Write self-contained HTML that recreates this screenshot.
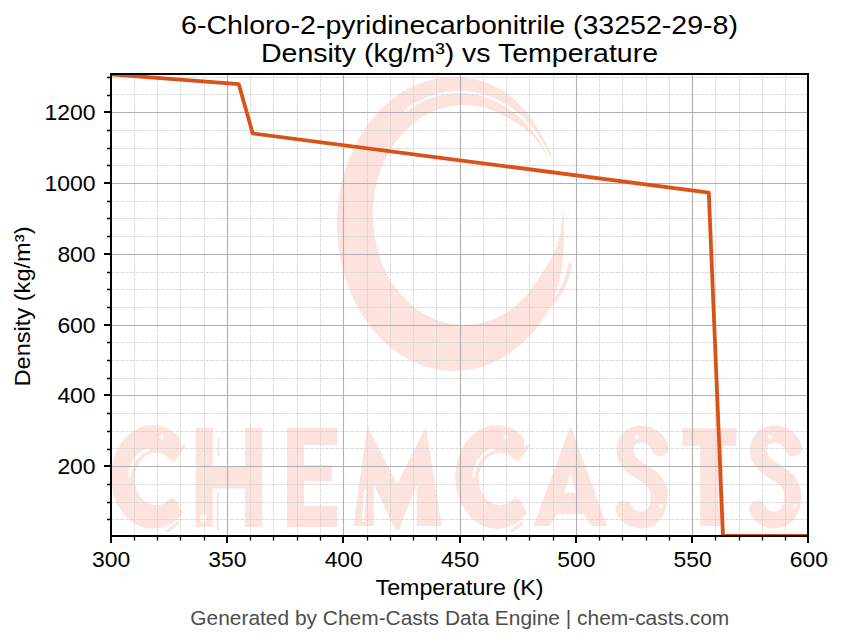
<!DOCTYPE html><html><head><meta charset="utf-8"><title>Density vs Temperature</title><style>html,body{margin:0;padding:0;background:#fff;width:843px;height:644px;overflow:hidden}svg{display:block}text{font-family:"Liberation Sans",sans-serif;fill:#000}</style></head><body>
<svg width="843" height="644" viewBox="0 0 843 644">
<rect width="843" height="644" fill="#fff"/>
<defs><clipPath id="ax"><rect x="111" y="74" width="697" height="462"/></clipPath>
</defs>
<g clip-path="url(#ax)">
<path fill="#fde3de" d="M562.7,210.5 L563.6,215.6 L563.8,220.4 L564.0,225.4 L564.1,230.4 L564.1,235.5 L564.0,240.7 L563.8,246.0 L563.5,251.4 L563.1,256.9 L562.5,262.4 L561.7,268.0 L560.8,273.5 L559.7,279.1 L558.4,284.6 L556.8,290.0 L555.1,295.3 L553.2,300.4 L551.1,305.4 L548.7,310.1 L546.2,314.5 L543.5,318.7 L540.7,322.7 L537.7,326.7 L534.7,330.5 L531.5,334.1 L528.3,337.6 L524.9,340.9 L521.4,344.1 L517.9,347.1 L514.3,350.0 L510.5,352.7 L506.8,355.2 L502.9,357.6 L499.0,359.7 L495.0,361.7 L490.9,363.5 L486.8,365.1 L482.7,366.5 L478.5,367.7 L474.3,368.8 L470.1,369.6 L465.8,370.2 L461.6,370.7 L457.3,370.9 L453.0,371.0 L448.7,370.8 L444.4,370.5 L440.1,370.0 L435.9,369.2 L431.7,368.3 L427.5,367.2 L423.3,365.9 L419.2,364.3 L415.1,362.7 L411.1,360.8 L407.2,358.7 L403.3,356.5 L399.4,354.0 L395.7,351.4 L392.0,348.7 L388.4,345.7 L384.9,342.6 L381.5,339.4 L378.2,335.9 L375.0,332.4 L371.8,328.7 L368.9,324.8 L366.0,320.8 L363.2,316.7 L360.6,312.5 L358.0,308.1 L355.7,303.6 L353.4,299.0 L351.3,294.4 L349.3,289.6 L347.5,284.7 L345.8,279.8 L344.2,274.8 L342.8,269.7 L341.5,264.5 L340.4,259.3 L339.5,254.1 L338.7,248.8 L338.0,243.4 L337.5,238.1 L337.2,232.7 L337.0,227.3 L337.0,221.9 L337.1,216.6 L337.4,211.2 L337.9,205.8 L338.5,200.5 L339.3,195.2 L340.2,189.9 L341.3,184.7 L342.5,179.6 L343.8,174.4 L345.4,169.4 L347.0,164.4 L348.8,159.6 L350.8,154.8 L352.9,150.1 L355.1,145.5 L357.5,140.9 L359.9,136.6 L362.6,132.3 L365.3,128.1 L368.2,124.1 L371.1,120.2 L374.2,116.5 L377.4,112.9 L380.7,109.4 L384.1,106.1 L387.6,103.0 L391.1,100.0 L394.8,97.2 L398.5,94.6 L402.3,92.1 L406.2,89.8 L410.2,87.7 L414.2,85.8 L418.2,84.0 L422.3,82.5 L426.5,81.1 L430.7,80.0 L434.9,79.0 L439.1,78.2 L443.4,77.6 L447.7,77.2 L452.0,77.0 L456.2,77.0 L460.5,77.2 L464.8,77.6 L469.1,78.2 L473.3,79.0 L477.5,80.0 L481.7,81.2 L485.9,82.6 L490.0,84.1 L494.0,85.9 L498.0,87.8 L502.0,90.0 L505.8,92.5 L509.6,95.2 L513.3,98.3 L516.8,101.5 L520.2,104.9 L523.5,108.5 L526.6,112.2 L529.6,116.1 L532.5,120.0 L535.2,124.1 L537.8,128.2 L540.3,132.3 L542.6,136.5 L544.8,140.7 L547.0,145.0 L549.0,149.3 L550.9,153.5 L550.8,159.2 L550.8,159.2 L547.0,156.6 L545.0,152.8 L542.9,149.2 L540.6,145.8 L538.2,142.5 L535.7,139.4 L533.1,136.5 L530.4,133.8 L527.6,131.3 L524.8,129.0 L522.0,126.8 L519.1,124.7 L516.2,122.8 L513.3,121.0 L510.3,119.3 L507.3,117.7 L504.3,116.1 L501.3,114.6 L498.2,113.1 L495.1,111.6 L492.0,110.3 L488.8,109.2 L485.6,108.1 L482.3,107.2 L479.0,106.5 L475.7,105.9 L472.4,105.5 L469.1,105.2 L465.7,105.0 L462.4,105.0 L459.1,105.2 L455.8,105.5 L452.4,105.9 L449.1,106.5 L445.9,107.2 L442.6,108.1 L439.4,109.1 L436.2,110.3 L433.0,111.6 L429.9,113.0 L426.8,114.6 L423.8,116.3 L420.9,118.1 L418.0,120.1 L415.1,122.2 L412.3,124.5 L409.6,126.8 L407.0,129.3 L404.4,131.9 L401.9,134.6 L399.5,137.4 L397.2,140.3 L395.0,143.3 L392.9,146.4 L390.8,149.6 L388.9,152.9 L387.1,156.2 L385.4,159.7 L383.7,163.2 L382.2,166.8 L380.8,170.4 L379.5,174.1 L378.3,177.9 L377.3,181.7 L376.3,185.6 L375.5,189.5 L374.8,193.4 L374.2,197.4 L373.7,201.4 L373.3,205.4 L373.1,209.4 L373.0,213.5 L373.0,217.5 L373.2,221.5 L373.4,225.5 L373.8,229.5 L374.3,233.5 L374.9,237.5 L375.7,241.4 L376.5,245.3 L377.5,249.2 L378.6,253.0 L379.8,256.7 L381.1,260.4 L382.6,264.1 L384.1,267.7 L385.8,271.2 L387.5,274.6 L389.4,277.9 L391.3,281.2 L393.4,284.4 L395.5,287.5 L397.8,290.4 L400.1,293.3 L402.5,296.1 L405.0,298.8 L407.6,301.3 L410.3,303.8 L413.0,306.1 L415.8,308.3 L418.6,310.4 L421.6,312.3 L424.5,314.1 L427.6,315.8 L430.6,317.3 L433.8,318.8 L436.9,320.0 L440.1,321.2 L443.4,322.1 L446.6,323.0 L449.9,323.7 L453.2,324.2 L456.5,324.6 L459.9,324.9 L463.2,325.0 L466.5,325.0 L469.9,324.8 L473.2,324.4 L476.5,324.0 L479.8,323.3 L483.1,322.6 L486.3,321.6 L489.5,320.6 L492.7,319.4 L495.9,318.0 L499.0,316.6 L502.0,314.9 L505.0,313.2 L508.0,311.3 L510.9,309.3 L513.7,307.1 L516.5,304.9 L519.1,302.5 L521.8,300.0 L524.3,297.4 L526.8,294.7 L529.1,291.8 L531.4,288.9 L533.6,285.9 L535.7,282.7 L537.8,279.6 L539.8,276.6 L541.8,273.6 L543.7,270.6 L545.7,267.7 L547.5,264.7 L549.4,261.6 L551.1,258.4 L552.8,255.1 L554.4,251.7 L555.9,248.2 L557.3,244.5 L558.6,240.7 L559.6,236.7 L560.6,232.6 L561.3,228.3 L561.8,223.9 L562.2,219.5 L562.3,214.9 L562.7,210.5 Z"/>
<path fill="none" stroke="#fff" stroke-width="2.2" d="M404.9,111.3 L408.8,108.5 L412.7,105.8 L416.8,103.4 L420.9,101.2 L425.1,99.3 L429.4,97.5 L433.7,96.0 L438.1,94.8 L442.5,93.7 L446.9,92.9 L451.4,92.4 L455.9,92.1 L460.4,92.0 L464.9,92.2 L469.4,92.6 L473.8,93.2 L478.3,94.1 L482.7,95.3 L487.0,96.6 L491.3,98.2 L495.6,100.0 L499.7,102.1 L503.8,104.4 L507.9,106.9 L511.8,109.6 L515.6,112.5 L519.3,115.6 L522.9,118.9 L526.4,122.4 L529.7,126.1 L533.0,130.0 L536.0,134.0 L539.0,138.2 L541.8,142.6 L544.4,147.1 L546.8,151.7 L549.1,156.5 L551.3,161.3 L553.2,166.3 L555.0,171.4"/>
<path fill="none" stroke="#fde3de" stroke-width="4" stroke-linecap="round" d="M549,306 Q566,290 570,265"/>
<path fill="#fde3de" stroke="#fde3de" stroke-width="1.5" stroke-linejoin="round" d="M179.3,437.9 A41,51 0 1 0 182.4,512.4 L171.5,498.1 A22,27 0 1 1 171.5,459.9 L179.3,454 Z"/>
<path fill="#fde3de" stroke="#fde3de" stroke-width="1.5" stroke-linejoin="round" d="M523.4,437.9 A41,51 0 1 0 526.5,512.4 L515.6,498.1 A22,27 0 1 1 515.6,459.9 L523.4,454 Z"/>
<path fill="none" stroke="#fde3de" stroke-width="17" stroke-linecap="round" transform="translate(0,0)" d="M660,448 C657,439 650,434 641,434 C630,434 624,442 625,452 C626,465 640,470 648,476 C657,482 660,490 659,500 C658,512 651,520 641,520 C631,520 626,514 624,509"/>
<path fill="none" stroke="#fde3de" stroke-width="17" stroke-linecap="round" transform="translate(133.6,0)" d="M660,448 C657,439 650,434 641,434 C630,434 624,442 625,452 C626,465 640,470 648,476 C657,482 660,490 659,500 C658,512 651,520 641,520 C631,520 626,514 624,509"/>
<path fill="#fde3de" d="M195.7,428 H212.9 V466.4 H245 V428 H262.3 V527 H245 V488.6 H212.9 V527 H195.7 Z"/>
<path fill="#fde3de" d="M287,428 H337.5 V445 H304 V465 H332 V481.5 H304 V505.7 H337.5 V527 H287 Z"/>
<path fill="#fde3de" d="M353.4,526 L367.3,425.4 L397.1,484.1 L426,426.4 L441.8,526 L416.7,526 L416.7,485 L399,529.7 L395.3,529.7 L373.9,485 L373.9,526 Z"/>
<path fill="#fde3de" fill-rule="evenodd" d="M533.4,526.1 L570.6,425.5 L607,526.1 L592.1,526.1 L583.5,514 L557.5,514 L549.2,526.1 Z M570.6,473.9 L564.1,492.5 L576.2,492.5 Z"/>
<path fill="#fde3de" d="M682.4,428.2 H736.4 V445.9 H723 V526 H700.1 V445.9 H682.4 Z"/>
<g transform="translate(-344.1,0)"><path fill="none" stroke="#fff" stroke-width="2.5" stroke-linecap="round" d="M473.5,476 Q476,456 493,449"/><circle cx="514.5" cy="445.5" r="9" fill="#fde3de"/><circle cx="516" cy="506.5" r="7.5" fill="#fde3de"/><circle cx="505.5" cy="437" r="2.2" fill="#fff"/><path fill="none" stroke="#fde3de" stroke-width="3" stroke-linecap="round" d="M518,460 L528,446 M512,531 L522,523"/></g>
<g transform="translate(0,0)"><path fill="none" stroke="#fff" stroke-width="2.5" stroke-linecap="round" d="M473.5,476 Q476,456 493,449"/><circle cx="514.5" cy="445.5" r="9" fill="#fde3de"/><circle cx="516" cy="506.5" r="7.5" fill="#fde3de"/><circle cx="505.5" cy="437" r="2.2" fill="#fff"/><path fill="none" stroke="#fde3de" stroke-width="3" stroke-linecap="round" d="M518,460 L528,446 M512,531 L522,523"/></g>
<path fill="none" stroke="#fde3de" stroke-width="2" stroke-linecap="round" d="M218.5,439 V456 M217.7,492 V530"/>
<ellipse cx="203.4" cy="518" rx="3" ry="4.5" fill="#fff"/>
<path fill="none" stroke="#fff" stroke-width="2.2" stroke-linecap="round" d="M365,490 L363,521"/>
<ellipse cx="308" cy="455" rx="1.8" ry="3" fill="#fff"/>
<g transform="translate(0,0)"><circle cx="636.5" cy="437" r="2.2" fill="#fff"/><circle cx="640.5" cy="452.5" r="1.8" fill="#fff"/><circle cx="661" cy="506" r="2" fill="#fff"/></g>
<g transform="translate(133.6,0)"><circle cx="636.5" cy="437" r="2.2" fill="#fff"/><circle cx="640.5" cy="452.5" r="1.8" fill="#fff"/><circle cx="661" cy="506" r="2" fill="#fff"/></g>
</g>
<path d="M134.5,74 V536 M157.5,74 V536 M180.5,74 V536 M204.5,74 V536 M250.5,74 V536 M273.5,74 V536 M297.5,74 V536 M320.5,74 V536 M367.5,74 V536 M390.5,74 V536 M413.5,74 V536 M436.5,74 V536 M483.5,74 V536 M506.5,74 V536 M529.5,74 V536 M553.5,74 V536 M599.5,74 V536 M622.5,74 V536 M646.5,74 V536 M669.5,74 V536 M715.5,74 V536 M739.5,74 V536 M762.5,74 V536 M785.5,74 V536 M111,519.5 H808 M111,502.5 H808 M111,484.5 H808 M111,448.5 H808 M111,431.5 H808 M111,413.5 H808 M111,378.5 H808 M111,360.5 H808 M111,342.5 H808 M111,307.5 H808 M111,289.5 H808 M111,272.5 H808 M111,236.5 H808 M111,218.5 H808 M111,201.5 H808 M111,165.5 H808 M111,148.5 H808 M111,130.5 H808 M111,94.5 H808 M111,77.5 H808" stroke="#cfcfcf" stroke-width="0.8" stroke-dasharray="2.6,0.8,1,0.6" fill="none"/>
<path d="M227.5,74 V536 M343.5,74 V536 M460.5,74 V536 M576.5,74 V536 M692.5,74 V536 M111,466.5 H808 M111,395.5 H808 M111,325.5 H808 M111,254.5 H808 M111,183.5 H808 M111,112.5 H808" stroke="#b0b0b0" stroke-width="1.1" fill="none"/>
<g clip-path="url(#ax)"><path d="M111.00,74.32 L238.78,84.23 L252.72,133.44 L708.79,192.56 L722.97,535.94 L808.00,535.94" stroke="#d95319" stroke-width="3.8" fill="none" stroke-linejoin="round" stroke-linecap="butt"/></g>
<path d="M111,536 V543 M227,536 V543 M343,536 V543 M460,536 V543 M576,536 V543 M692,536 V543 M808,536 V543 M111,466 H104 M111,395 H104 M111,325 H104 M111,254 H104 M111,183 H104 M111,112 H104" stroke="#000" stroke-width="2" fill="none"/>
<path d="M134.5,536 V540.4 M157.5,536 V540.4 M180.5,536 V540.4 M204.5,536 V540.4 M250.5,536 V540.4 M273.5,536 V540.4 M297.5,536 V540.4 M320.5,536 V540.4 M367.5,536 V540.4 M390.5,536 V540.4 M413.5,536 V540.4 M436.5,536 V540.4 M483.5,536 V540.4 M506.5,536 V540.4 M529.5,536 V540.4 M553.5,536 V540.4 M599.5,536 V540.4 M622.5,536 V540.4 M646.5,536 V540.4 M669.5,536 V540.4 M715.5,536 V540.4 M739.5,536 V540.4 M762.5,536 V540.4 M785.5,536 V540.4 M111,519.5 H107 M111,502.5 H107 M111,484.5 H107 M111,449.5 H107 M111,431.5 H107 M111,413.5 H107 M111,378.5 H107 M111,360.5 H107 M111,342.5 H107 M111,307.5 H107 M111,289.5 H107 M111,272.5 H107 M111,236.5 H107 M111,218.5 H107 M111,201.5 H107 M111,165.5 H107 M111,148.5 H107 M111,130.5 H107 M111,95.5 H107 M111,77.5 H107" stroke="#000" stroke-width="1.3" fill="none"/>
<rect x="111" y="74" width="697" height="462" fill="none" stroke="#000" stroke-width="2"/>
<text x="111.15" y="566.5" font-size="22.3" text-anchor="middle" textLength="38.2" lengthAdjust="spacingAndGlyphs">300</text>
<text x="227.45" y="566.5" font-size="22.3" text-anchor="middle" textLength="38.2" lengthAdjust="spacingAndGlyphs">350</text>
<text x="343.75" y="566.5" font-size="22.3" text-anchor="middle" textLength="38.2" lengthAdjust="spacingAndGlyphs">400</text>
<text x="460.05" y="566.5" font-size="22.3" text-anchor="middle" textLength="38.2" lengthAdjust="spacingAndGlyphs">450</text>
<text x="576.35" y="566.5" font-size="22.3" text-anchor="middle" textLength="38.2" lengthAdjust="spacingAndGlyphs">500</text>
<text x="692.65" y="566.5" font-size="22.3" text-anchor="middle" textLength="38.2" lengthAdjust="spacingAndGlyphs">550</text>
<text x="808.95" y="566.5" font-size="22.3" text-anchor="middle" textLength="38.2" lengthAdjust="spacingAndGlyphs">600</text>
<text x="95.6" y="473.8" font-size="22.3" text-anchor="end" textLength="38.2" lengthAdjust="spacingAndGlyphs">200</text>
<text x="95.6" y="402.8" font-size="22.3" text-anchor="end" textLength="38.2" lengthAdjust="spacingAndGlyphs">400</text>
<text x="95.6" y="332.8" font-size="22.3" text-anchor="end" textLength="38.2" lengthAdjust="spacingAndGlyphs">600</text>
<text x="95.6" y="261.8" font-size="22.3" text-anchor="end" textLength="38.2" lengthAdjust="spacingAndGlyphs">800</text>
<text x="95.6" y="190.8" font-size="22.3" text-anchor="end" textLength="51" lengthAdjust="spacingAndGlyphs">1000</text>
<text x="95.6" y="119.8" font-size="22.3" text-anchor="end" textLength="51" lengthAdjust="spacingAndGlyphs">1200</text>
<text x="459.5" y="34" font-size="26.5" text-anchor="middle" textLength="557" lengthAdjust="spacingAndGlyphs">6-Chloro-2-pyridinecarbonitrile (33252-29-8)</text>
<text x="459.5" y="62" font-size="26.5" text-anchor="middle" textLength="397" lengthAdjust="spacingAndGlyphs">Density (kg/m³) vs Temperature</text>
<text x="459.5" y="594.5" font-size="22.1" text-anchor="middle" textLength="168" lengthAdjust="spacingAndGlyphs">Temperature (K)</text>
<text transform="translate(29.8,306.5) rotate(-90)" x="0" y="0" font-size="22.1" text-anchor="middle" textLength="160" lengthAdjust="spacingAndGlyphs">Density (kg/m³)</text>
<text x="459.8" y="625" font-size="19.9" text-anchor="middle" textLength="539" lengthAdjust="spacingAndGlyphs" style="fill:#4d4d4d">Generated by Chem-Casts Data Engine | chem-casts.com</text>
</svg></body></html>
